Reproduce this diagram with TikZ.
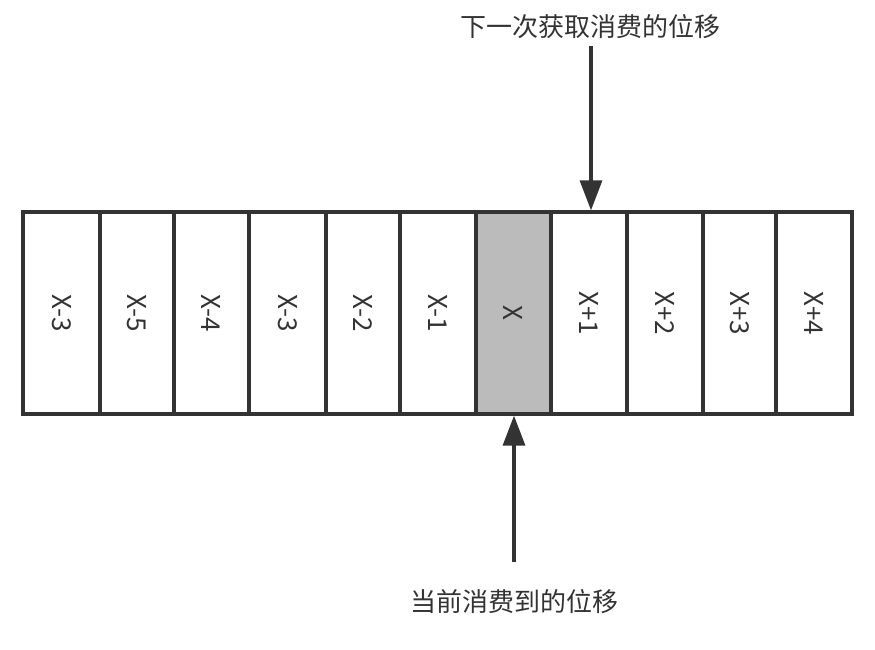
\documentclass[tikz,border=0pt]{standalone}
\usepackage{fontspec}
\setmainfont{Noto Sans CJK SC}
\usetikzlibrary{arrows.meta}
\definecolor{ink}{HTML}{333333}
\definecolor{cellgray}{HTML}{BBBBBB}
\begin{document}
\begin{tikzpicture}[x=1pt,y=-1pt,
  cell/.style={draw=ink, line width=3.3pt, inner sep=0pt, minimum height=202pt, fill=white},
  celltext/.style={rotate=-90, text=ink, font=\fontsize{26}{30}\selectfont},
  lbl/.style={text=ink, font=\fontsize{26}{30}\selectfont, inner sep=0pt},
  arr/.style={draw=ink, line width=3.3pt, -{Triangle[width=22pt,length=30pt]}}]
\useasboundingbox (0,0) rectangle (875,650);
\foreach \l/\r/\t/\n in {23/100/X-3/c1, 100/174/X-5/c2, 174/249/X-4/c3, 249/326/X-3/c4, 326/400/X-2/c5, 400/476/X-1/c6, 551/627/X+1/c8, 627/703/X+2/c9, 703/776/X+3/c10, 776/852/X+4/c11}{
  \node[cell, minimum width={(\r-\l)*1pt}, label={[celltext]center:\t}] (\n) at ({(\l+\r)/2},313) {};
}
\node[cell, fill=cellgray, minimum width=75pt, label={[celltext]center:X}] (c7) at (513.5,313) {};
\node[lbl] (toplabel) at (590,27) {下一次获取消费的位移};
\node[lbl] (botlabel) at (514,602) {当前消费到的位移};
\coordinate (topstart) at (591,46);
\coordinate (botstart) at (514,562);
\draw[arr] (topstart) -- (topstart |- c8.north);
\draw[arr] (botstart) -- (botstart |- c7.south);
\end{tikzpicture}
\end{document}
